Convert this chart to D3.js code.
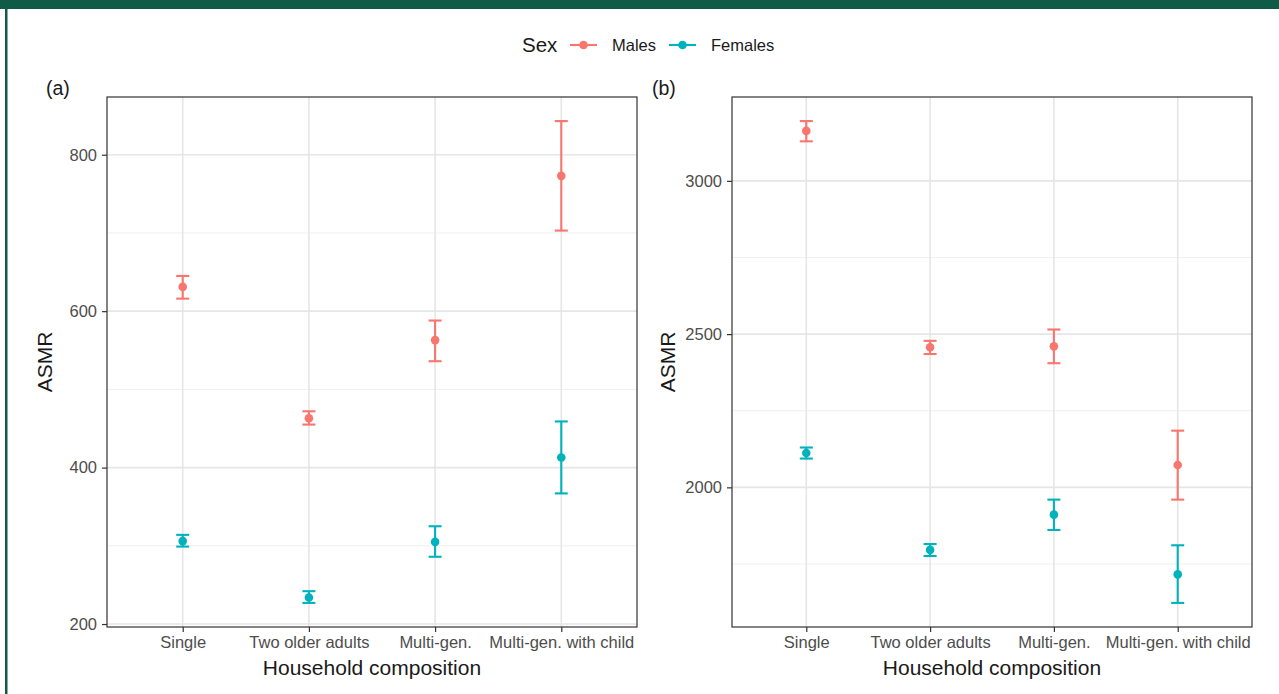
<!DOCTYPE html>
<html>
<head>
<meta charset="utf-8">
<script src="https://cdn.jsdelivr.net/npm/d3@7"></script>
<style>
  html, body { margin: 0; padding: 0; background: #ffffff; }
  svg { display: block; font-family: "Liberation Sans", Arial, Helvetica, sans-serif; }
</style>
</head>
<body>
<div id="chart"></div>
<script>
// household types on the x axis
var categories = ["Single", "Two older adults", "Multi-gen.", "Multi-gen. with child"];
var sexes = ["Males", "Females"];

// panel (a)
var maleA = [631, 463, 563, 773];
var maleALow = [616, 455, 536, 703];
var maleAHigh = [645, 472, 588, 843];
var femaleA = [306, 234, 305, 413];
var femaleALow = [299, 227, 286, 367];
var femaleAHigh = [314, 242, 325, 459];
var ticksA = [200, 400, 600, 800];
var minorA = [300, 500, 700];

// panel (b)
var maleB = [3163, 2457, 2460, 2073];
var maleBLow = [3129, 2435, 2405, 1960];
var maleBHigh = [3195, 2478, 2515, 2185];
var femaleB = [2112, 1796, 1911, 1716];
var femaleBLow = [2094, 1776, 1861, 1623];
var femaleBHigh = [2130, 1815, 1960, 1811];
var ticksB = [2000, 2500, 3000];
var minorB = [1750, 2250, 2750];

var colors = { "Males": "#F8766D", "Females": "#00B2BC" };

var svgWidth = 1279;
var svgHeight = 694;

var svg = d3.select("#chart").append("svg")
  .attr("width", svgWidth)
  .attr("height", svgHeight);

// journal frame: green bar on top and a thin line down the left
svg.append("rect").attr("x", 0).attr("y", 0).attr("width", svgWidth).attr("height", 9).attr("fill", "#0f5b48");
svg.append("rect").attr("x", 5).attr("y", 0).attr("width", 2.5).attr("height", svgHeight).attr("fill", "#0f5b48");

function buildRows(mean, low, high, sex) {
  return categories.map(function(c, i) {
    return { cat: c, sex: sex, mean: mean[i], low: low[i], high: high[i] };
  });
}

function drawPanel(opts) {
  var rows = buildRows(opts.male, opts.maleLow, opts.maleHigh, "Males")
    .concat(buildRows(opts.female, opts.femaleLow, opts.femaleHigh, "Females"));

  var g = svg.append("g").attr("transform", `translate(${opts.left}, ${opts.top})`);
  var width = opts.width;
  var height = opts.height;

  // ggplot style expansion: 5% continuous, 0.6 units discrete
  var lo = d3.min(rows, d => d.low);
  var hi = d3.max(rows, d => d.high);
  var pad = (hi - lo) * 0.05;
  var y = d3.scaleLinear().domain([lo - pad, hi + pad]).range([height, 0]);
  var x = d3.scalePoint().domain(categories).range([0, width]).padding(0.6);

  // grid
  g.selectAll(".minor-y").data(opts.minor).enter().append("line")
    .attr("x1", 0).attr("x2", width)
    .attr("y1", d => y(d)).attr("y2", d => y(d))
    .attr("stroke", "#f0f0f0").attr("stroke-width", 1);
  g.selectAll(".major-y").data(opts.ticks).enter().append("line")
    .attr("x1", 0).attr("x2", width)
    .attr("y1", d => y(d)).attr("y2", d => y(d))
    .attr("stroke", "#e6e6e6").attr("stroke-width", 1.6);
  g.selectAll(".major-x").data(categories).enter().append("line")
    .attr("x1", d => x(d)).attr("x2", d => x(d))
    .attr("y1", 0).attr("y2", height)
    .attr("stroke", "#e6e6e6").attr("stroke-width", 1.6);

  // error bars
  var capHalf = 6.5;
  var bars = g.selectAll(".err").data(rows).enter().append("g")
    .attr("stroke", d => colors[d.sex])
    .attr("stroke-width", 2.1);
  bars.append("line")
    .attr("x1", d => x(d.cat)).attr("x2", d => x(d.cat))
    .attr("y1", d => y(d.low)).attr("y2", d => y(d.high));
  bars.append("line")
    .attr("x1", d => x(d.cat) - capHalf).attr("x2", d => x(d.cat) + capHalf)
    .attr("y1", d => y(d.low)).attr("y2", d => y(d.low));
  bars.append("line")
    .attr("x1", d => x(d.cat) - capHalf).attr("x2", d => x(d.cat) + capHalf)
    .attr("y1", d => y(d.high)).attr("y2", d => y(d.high));

  g.selectAll(".pt").data(rows).enter().append("circle")
    .attr("cx", d => x(d.cat))
    .attr("cy", d => y(d.mean))
    .attr("r", 4.3)
    .attr("fill", d => colors[d.sex]);

  // axes
  var leftAxis = d3.axisLeft(y).tickValues(opts.ticks).tickSize(5).tickPadding(5).tickFormat(d3.format("d"));
  var bottomAxis = d3.axisBottom(x).tickSize(5).tickPadding(4);

  var yAxis = g.append("g").call(leftAxis);
  var xAxis = g.append("g").attr("transform", `translate(0, ${height})`).call(bottomAxis);
  [yAxis, xAxis].forEach(function(ax) {
    ax.select(".domain").remove();
    ax.selectAll(".tick line").attr("stroke", "#333333").attr("stroke-width", 1.2);
    ax.selectAll(".tick text")
      .attr("fill", "#4d4d4d")
      .style("font-size", "16.5px")
      .style("font-family", "Liberation Sans, Arial, sans-serif");
  });

  // panel border
  g.append("rect")
    .attr("x", 0).attr("y", 0)
    .attr("width", width).attr("height", height)
    .attr("fill", "none")
    .attr("stroke", "#333333")
    .attr("stroke-width", 1.2);

  // titles
  g.append("text")
    .attr("x", width / 2)
    .attr("y", height + 48)
    .attr("text-anchor", "middle")
    .attr("fill", "#1a1a1a")
    .style("font-size", "21px")
    .text("Household composition");

  g.append("text")
    .attr("transform", `translate(${opts.yTitleX}, ${height / 2}) rotate(-90)`)
    .attr("text-anchor", "middle")
    .attr("fill", "#1a1a1a")
    .style("font-size", "21px")
    .text("ASMR");

  svg.append("text")
    .attr("x", opts.tagX)
    .attr("y", 95)
    .attr("fill", "#1a1a1a")
    .style("font-size", "19.5px")
    .text(opts.tag);
}

drawPanel({
  left: 107, top: 97, width: 530, height: 530,
  male: maleA, maleLow: maleALow, maleHigh: maleAHigh,
  female: femaleA, femaleLow: femaleALow, femaleHigh: femaleAHigh,
  ticks: ticksA, minor: minorA,
  yTitleX: -55, tag: "(a)", tagX: 46
});

drawPanel({
  left: 732, top: 97, width: 520, height: 530,
  male: maleB, maleLow: maleBLow, maleHigh: maleBHigh,
  female: femaleB, femaleLow: femaleBLow, femaleHigh: femaleBHigh,
  ticks: ticksB, minor: minorB,
  yTitleX: -57, tag: "(b)", tagX: 652
});

// legend on top
var legend = svg.append("g").attr("transform", "translate(522, 45)");
legend.append("text")
  .attr("x", 0).attr("y", 7)
  .attr("fill", "#1a1a1a")
  .style("font-size", "20.5px")
  .text("Sex");

var keyX = [48, 147];
var labelX = [90, 189];
sexes.forEach(function(s, i) {
  legend.append("line")
    .attr("x1", keyX[i]).attr("x2", keyX[i] + 27)
    .attr("y1", 0).attr("y2", 0)
    .attr("stroke", colors[s]).attr("stroke-width", 2.1);
  legend.append("circle")
    .attr("cx", keyX[i] + 13.5).attr("cy", 0).attr("r", 4.3)
    .attr("fill", colors[s]);
  legend.append("text")
    .attr("x", labelX[i]).attr("y", 6)
    .attr("fill", "#1a1a1a")
    .style("font-size", "16.5px")
    .text(s);
});
</script>
</body>
</html>
